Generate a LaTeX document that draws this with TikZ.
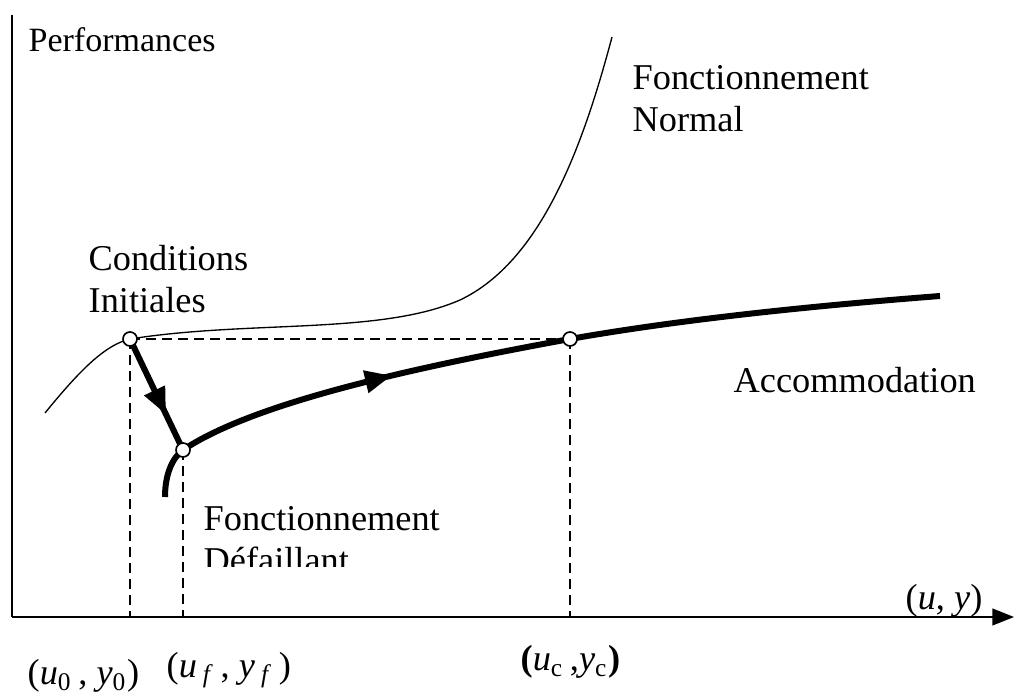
\documentclass[tikz,border=0pt]{standalone}
\usepackage{fontspec}
\setmainfont{Liberation Serif}
\usetikzlibrary{arrows.meta,decorations.markings}

\begin{document}
\begin{tikzpicture}[x=0.3pt,y=-0.3pt,
    lbl/.style={anchor=west,align=left,inner sep=0pt,
      font=\fontsize{10.9}{12.6}\selectfont},
    axe/.style={line width=0.65pt},
    thin/.style={line width=0.4pt},
    thick/.style={line width=1.8pt},
    guide/.style={line width=0.7pt,dash pattern=on 3pt off 1.8pt},
    pt/.style={circle,draw,fill=white,line width=0.5pt,inner sep=0pt,minimum size=4.2pt},
    midarrow/.style={postaction={decorate},decoration={markings,
      mark=at position #1 with {\arrow{Triangle[length=8pt,width=6.5pt]}}}}]
    \useasboundingbox (0,0) rectangle (1016,694);
    % axes
    \coordinate (orig) at (12,617);
    \coordinate (ytop) at (12,15);
    \coordinate (xend) at (1014,617);
    \draw[axe] (ytop) -- (orig);
    \draw[axe,-{Triangle[length=6.5pt,width=5pt]}] (orig) -- (xend);
    % points
    \coordinate (init) at (130,339);
    \coordinate (fail) at (183,450);
    \coordinate (acc) at (570,339);
    \coordinate (init0) at (130,617);
    \coordinate (fail0) at (183,617);
    \coordinate (acc0) at (570,617);
    \coordinate (nstart) at (45,413);
    \coordinate (nend) at (612,37);
    \coordinate (tail) at (165,497);
    \coordinate (aend) at (940,296);
    % guides
    \draw[guide] (init) -- (acc);
    \draw[guide] (init) -- (init0);
    \draw[guide] (fail) -- (fail0);
    \draw[guide] (acc) -- (acc0);
    % normal behaviour
    \draw[thin] (nstart) .. controls (80,370) and (105,345) .. (init)
      .. controls (250,320) and (380,335) .. (460,300)
      .. controls (540,262) and (582,150) .. (nend);
    % fault and accommodation
    \draw[thick,midarrow=0.68] (init) -- (fail);
    \draw[thick] (tail) .. controls (165,475) and (172,458) .. (fail);
    \draw[thick,midarrow=0.55] (fail) .. controls (250,405) and (400,370) .. (acc);
    \draw[thick] (acc) .. controls (700,316) and (850,303) .. (aend);
    \node[pt] (p0) at (init) {};
    \node[pt] (pf) at (fail) {};
    \node[pt] (pc) at (acc) {};
    % labels
    \node[lbl,font=\fontsize{10.2}{12}\selectfont] (perf) at (28,40) {Performances};
    \node[lbl] (normal) at (632,99) {Fonctionnement\\Normal};
    \node[lbl] (cond) at (88,279) {Conditions\\Initiales};
    \node[lbl] (accom) at (733,380) {Accommodation};
    \begin{scope}
      \clip (190,495) rectangle (460,566);
      \node[lbl] (defail) at (203,540) {Fonctionnement\\Défaillant};
    \end{scope}
    \node[lbl] (uy) at (905,601) {(\textit{u}, \textit{y})};
    \node[lbl] (u0) at (27,676) {(\textit{u}\textsubscript{0}\,, \textit{y}\textsubscript{0})};
    \node[lbl] (uf) at (166,670) {(\textit{u}\,\textsubscript{\textit{f}}\,, \textit{y}\,\textsubscript{\textit{f}}\,)};
    \node[lbl] (uc) at (520,662) {\textbf{(}\textit{u}\textsubscript{c}\,,\textit{y}\textsubscript{c}\textbf{)}};
\end{tikzpicture}
\end{document}
